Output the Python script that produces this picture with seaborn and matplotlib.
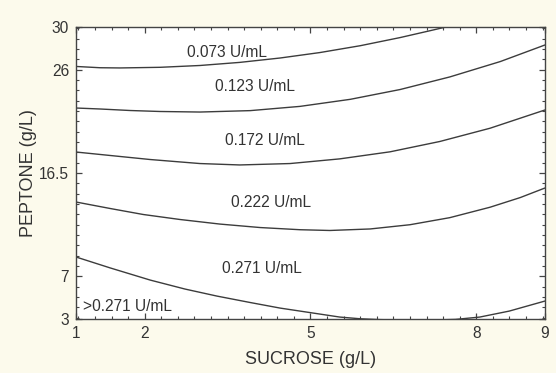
import numpy as np
import pandas as pd
import matplotlib
matplotlib.use("Agg")
import matplotlib.pyplot as plt
from matplotlib.ticker import FixedLocator, FixedFormatter
import seaborn as sns

# Central composite design levels (actual g/L) and their coded positions
ALPHA = np.sqrt(2.0)
coded_levels = [-ALPHA, -1.0, 0.0, 1.0, ALPHA]
sucrose_levels = [1, 2, 5, 8, 9]
peptone_levels = [3, 7, 16.5, 26, 30]
sucrose_ticklabels = ["1", "2", "5", "8", "9"]
peptone_ticklabels = ["3", "7", "16.5", "26", "30"]

# Iso-activity contours (sucrose g/L, peptone g/L)
c073_sucrose = [1.00, 1.35, 1.64, 2.28, 3.00, 3.72, 4.45, 5.17, 5.90, 6.62, 7.16, 7.45, 7.70]
c073_peptone = [26.31, 26.19, 26.17, 26.23, 26.40, 26.69, 27.10, 27.61, 28.25, 29.01, 29.65, 30.00, 30.34]

c123_sucrose = [1.00, 1.35, 1.79, 2.28, 3.00, 3.91, 4.81, 5.72, 6.62, 7.52, 8.35, 9.00]
c123_peptone = [22.48, 22.39, 22.25, 22.16, 22.11, 22.24, 22.63, 23.28, 24.18, 25.34, 26.77, 28.32]

c172_sucrose = [1.00, 1.50, 2.10, 3.00, 3.72, 4.63, 5.53, 6.44, 7.34, 8.20, 9.00]
c172_peptone = [18.43, 18.11, 17.74, 17.37, 17.24, 17.37, 17.80, 18.45, 19.40, 20.62, 22.30]

c222_sucrose = [1.00, 1.50, 1.98, 2.64, 3.36, 4.09, 4.81, 5.35, 6.08, 6.80, 7.52, 8.20, 8.64, 9.00]
c222_peptone = [13.83, 13.23, 12.68, 12.22, 11.80, 11.48, 11.28, 11.21, 11.35, 11.74, 12.39, 13.35, 14.24, 15.12]

c271_sucrose = [1.00, 1.50, 2.10, 2.73, 3.31, 3.91, 4.45, 4.99, 5.53, 5.90, 6.26, 6.98, 7.62, 8.05, 8.48, 9.00]
c271_peptone = [8.77, 7.76, 6.64, 5.80, 5.14, 4.54, 4.02, 3.60, 3.18, 3.02, 2.94, 2.87, 2.96, 3.18, 3.74, 4.68]

contour_labels = ["0.073 U/mL", "0.123 U/mL", "0.172 U/mL", "0.222 U/mL", "0.271 U/mL", ">0.271 U/mL"]
label_sucrose = [3.49, 3.99, 4.18, 4.29, 4.12, 1.10]
label_peptone = [27.57, 24.42, 19.45, 13.74, 7.75, 4.21]


def piecewise(v, xp, fp):
    v = np.asarray(v, dtype=float)
    out = np.interp(v, xp, fp)
    s0 = (fp[1] - fp[0]) / (xp[1] - xp[0])
    s1 = (fp[-1] - fp[-2]) / (xp[-1] - xp[-2])
    out = np.where(v < xp[0], fp[0] + (v - xp[0]) * s0, out)
    out = np.where(v > xp[-1], fp[-1] + (v - xp[-1]) * s1, out)
    return out


def coded_scale(levels):
    fwd = lambda v: piecewise(v, levels, coded_levels)
    inv = lambda c: piecewise(c, coded_levels, levels)
    return fwd, inv


sns.set_theme(style="ticks")
plt.rcParams["font.family"] = ["Liberation Sans", "DejaVu Sans"]

INK = "#333333"
BG = "#fcfaec"

fig = plt.figure(figsize=(5.56, 3.73), dpi=100, facecolor=BG)
ax = fig.add_axes([0.1367, 0.1448, 0.9802 - 0.1367, 0.9276 - 0.1448])
ax.set_facecolor("white")

x_fwd, x_inv = coded_scale(sucrose_levels)
y_fwd, y_inv = coded_scale(peptone_levels)
ax.set_xscale("function", functions=(x_fwd, x_inv))
ax.set_yscale("function", functions=(y_fwd, y_inv))

contours = [
    (c073_sucrose, c073_peptone),
    (c123_sucrose, c123_peptone),
    (c172_sucrose, c172_peptone),
    (c222_sucrose, c222_peptone),
    (c271_sucrose, c271_peptone),
]
for xs, ys in contours:
    df = pd.DataFrame({"sucrose": xs, "peptone": ys})
    sns.lineplot(data=df, x="sucrose", y="peptone", sort=False, estimator=None,
                 color="#3c3c3c", linewidth=1.0, ax=ax)

for txt, sx, py in zip(contour_labels, label_sucrose, label_peptone):
    ha = "left" if txt.startswith(">") else "center"
    ax.text(sx, py, txt, ha=ha, va="center", fontsize=11.2, color=INK)

ax.set_xlim(sucrose_levels[0], sucrose_levels[-1])
ax.set_ylim(peptone_levels[0], peptone_levels[-1])

ax.xaxis.set_major_locator(FixedLocator(sucrose_levels))
ax.xaxis.set_major_formatter(FixedFormatter(sucrose_ticklabels))
ax.yaxis.set_major_locator(FixedLocator(peptone_levels))
ax.yaxis.set_major_formatter(FixedFormatter(peptone_ticklabels))

minor_coded = np.round(np.arange(-14, 15) * 0.1, 2)
ax.xaxis.set_minor_locator(FixedLocator(x_inv(minor_coded)))
ax.yaxis.set_minor_locator(FixedLocator(y_inv(minor_coded)))

ax.tick_params(which="both", direction="in", top=True, right=True, color="#444444",
               labelsize=11.2, labelcolor=INK)
ax.tick_params(which="major", length=4, width=0.9, pad=5)
ax.tick_params(which="minor", length=2.5, width=0.8)

for side in ax.spines.values():
    side.set_visible(True)
    side.set_color("#444444")
    side.set_linewidth(1.0)

ax.set_xlabel("SUCROSE (g/L)", fontsize=13, color=INK, labelpad=7.5)
ax.set_ylabel("PEPTONE (g/L)", fontsize=13, color=INK, labelpad=1.5)

fig.savefig("out.png", dpi=100, facecolor=BG)
